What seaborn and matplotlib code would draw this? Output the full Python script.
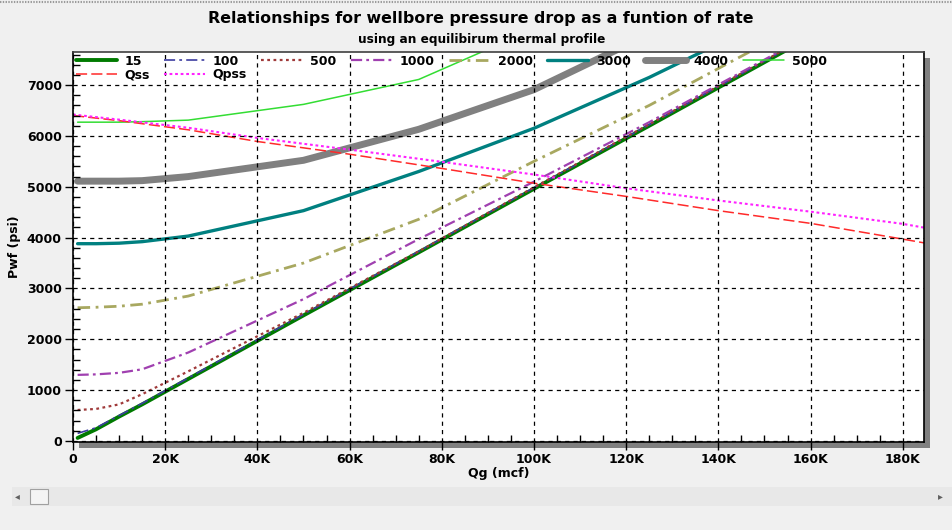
import matplotlib
matplotlib.use("Agg")
import matplotlib.pyplot as plt
from matplotlib.patches import Rectangle
from matplotlib.lines import Line2D
from matplotlib.ticker import MultipleLocator, FuncFormatter
import seaborn as sns

# Gas rate (mcf) at which each wellbore curve is evaluated
q_rate = [1000, 5000, 10000, 15000, 25000, 50000, 75000, 100000,
          125000, 150000, 175000]

# Flowing bottomhole pressure (psi) for each wellbore series
pwf_15 = [60, 230, 480, 720, 1220, 2470, 3710, 4960, 6200, 7450, 8700]
pwf_100 = [150, 260, 500, 740, 1240, 2490, 3730, 4980, 6220, 7470, 8720]
pwf_500 = [610, 630, 720, 920, 1370, 2520, 3730, 4990, 6230, 7480, 8730]
pwf_1000 = [1300, 1310, 1340, 1410, 1740, 2790, 3970, 5100, 6270, 7500, 8750]
pwf_2000 = [2620, 2630, 2650, 2690, 2850, 3500, 4360, 5500, 6600, 7810]
pwf_3000 = [3880, 3880, 3890, 3920, 4030, 4530, 5300, 6150, 7150, 8250]
pwf_4000 = [5110, 5110, 5110, 5120, 5200, 5520, 6130, 6910, 8000]
pwf_5000 = [6270, 6270, 6270, 6280, 6310, 6620, 7110, 8100]

# Reservoir inflow curves
q_ipr = [0, 10000, 25000, 40000, 60000, 80000, 100000, 120000,
         140000, 160000, 180000, 185000]
pwf_qss = [6400, 6300, 6120, 5890, 5640, 5360, 5070, 4810,
           4530, 4280, 3970, 3890]
pwf_qpss = [6420, 6320, 6160, 5960, 5730, 5490, 5240, 4970,
            4730, 4510, 4270, 4190]

x_ticks = [0, 20000, 40000, 60000, 80000, 100000, 120000, 140000, 160000, 180000]
x_tick_labels = ["0", "20K", "40K", "60K", "80K", "100K", "120K", "140K", "160K", "180K"]

sns.set_theme(style="white")
plt.rcParams["font.family"] = ["DejaVu Sans"]
plt.rcParams["lines.scale_dashes"] = False
plt.rcParams["text.color"] = "black"
plt.rcParams["axes.labelcolor"] = "black"

W, H = 952, 530
fig = plt.figure(figsize=(W / 100, H / 100), dpi=100, facecolor="#f0f0f0")

# plot frame in pixel units
L, R, T, B = 73, 924, 52, 442
ax = fig.add_axes([L / W, 1 - B / H, (R - L) / W, (B - T) / H])
ax.set_facecolor("white")
ax.set_zorder(1)

# drop shadow behind the plot frame
fig.patches.append(Rectangle(((L + 6) / W, 1 - (B + 6) / H), (R - L) / W, (B - T) / H,
                             transform=fig.transFigure, facecolor="#808080",
                             edgecolor="none", zorder=0))

series = [
    ("15", q_rate, pwf_15, dict(color="#007a00", lw=2.8, ls="-")),
    ("100", q_rate, pwf_100, dict(color="#3c3ca0", lw=1.2, ls=(0, (8, 3, 2, 3)))),
    ("500", q_rate, pwf_500, dict(color="#a03a3a", lw=1.6, ls=(0, (2, 2.5)))),
    ("1000", q_rate, pwf_1000, dict(color="#a040b0", lw=1.6, ls=(0, (8, 3, 2, 3)))),
    ("2000", q_rate, pwf_2000, dict(color="#a8a860", lw=2.0, ls=(0, (9, 4, 2, 4)))),
    ("3000", q_rate, pwf_3000, dict(color="#008080", lw=2.4, ls="-")),
    ("4000", q_rate, pwf_4000, dict(color="#808080", lw=5.0, ls="-", solid_capstyle="round")),
    ("5000", q_rate, pwf_5000, dict(color="#33dd33", lw=1.1, ls="-")),
    ("Qss", q_ipr, pwf_qss, dict(color="#ff2a2a", lw=1.1, ls=(0, (8, 3)))),
    ("Qpss", q_ipr, pwf_qpss, dict(color="#ff22ff", lw=1.5, ls=(0, (2, 2)))),
]

handles = {}
for name, xs, ys, style in series:
    sns.lineplot(x=xs[:len(ys)], y=ys, ax=ax, label=name, sort=False,
                 estimator=None, **style)
for h, lab in zip(*ax.get_legend_handles_labels()):
    handles[lab] = h

ax.set_xlim(0, 184600)
ax.set_ylim(-20, 7650)

ax.grid(True, which="major", color="black", linestyle=(0, (3, 3)), linewidth=0.9)
ax.set_axisbelow(False)

ax.xaxis.set_minor_locator(MultipleLocator(5000))
ax.set_xticks(x_ticks)
ax.set_xticklabels(x_tick_labels)
ax.yaxis.set_major_locator(MultipleLocator(1000))
ax.yaxis.set_minor_locator(MultipleLocator(200))
ax.yaxis.set_major_formatter(FuncFormatter(lambda v, p: f"{int(v)}"))

ax.tick_params(which="major", direction="out", length=6, width=1, color="black",
               labelsize=9, labelcolor="black", pad=2)
ax.tick_params(which="minor", direction="in", length=5, width=1, color="black")
ax.tick_params(axis="x", which="both", bottom=True)
ax.tick_params(axis="y", which="both", left=True)
for lbl in ax.get_xticklabels() + ax.get_yticklabels():
    lbl.set_fontweight("bold")

for side in ["left", "bottom", "top", "right"]:
    ax.spines[side].set_color("black")
    ax.spines[side].set_linewidth(1.2)
ax.spines["top"].set_color("#404040")

ax.set_xlabel("Qg (mcf)", fontsize=9, fontweight="bold", labelpad=1)
ax.set_ylabel("Pwf (psi)", fontsize=9, fontweight="bold", labelpad=4)

order = ["15", "Qss", "100", "Qpss", "500", "1000", "2000", "3000", "4000", "5000"]
leg = ax.legend([handles[k] for k in order], order, ncol=8, loc="upper left",
                bbox_to_anchor=(0.0, 1.0), frameon=False, fontsize=9,
                handlelength=3.3, handletextpad=0.6, columnspacing=1.15,
                labelspacing=0.05, borderpad=0.1, borderaxespad=0.1)
for t in leg.get_texts():
    t.set_fontweight("bold")

fig.text(0.505, 1 - 18 / H, "Relationships for wellbore pressure drop as a funtion of rate",
         ha="center", va="center", fontsize=11.4, fontweight="bold", color="black")
fig.text(0.506, 1 - 39 / H, "using an equilibirum thermal profile",
         ha="center", va="center", fontsize=8.7, fontweight="bold", color="black")

# window edge at the top and scrollbar under the chart
fig.lines.append(Line2D([0, 1], [1 - 2 / H, 1 - 2 / H], transform=fig.transFigure,
                        color="#9a9a9a", lw=1.5, ls=(0, (1, 1))))
fig.patches.append(Rectangle((12 / W, 1 - 506 / H), (W - 12) / W, 19 / H,
                             transform=fig.transFigure, facecolor="#e8e8e8",
                             edgecolor="none", zorder=0))
fig.patches.append(Rectangle((30 / W, 1 - 504 / H), 18 / W, 15 / H,
                             transform=fig.transFigure, facecolor="#f4f4f4",
                             edgecolor="#a0a0a0", linewidth=0.8, zorder=0))
fig.text(17 / W, 1 - 496 / H, "\u25c2", ha="center", va="center", fontsize=7, color="#606060")
fig.text(940 / W, 1 - 496 / H, "\u25b8", ha="center", va="center", fontsize=7, color="#606060")

fig.savefig("out.png", dpi=100, facecolor=fig.get_facecolor())
